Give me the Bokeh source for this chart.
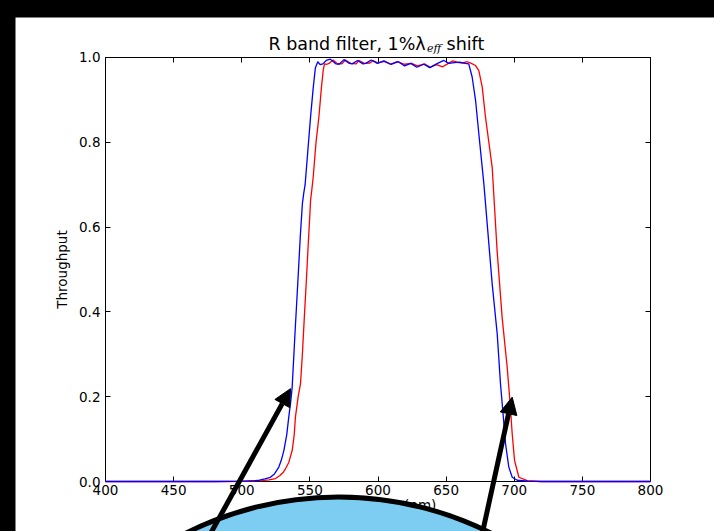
from bokeh.plotting import figure
from bokeh.models import Range1d, LinearAxis, FixedTicker, PrintfTickFormatter, Arrow, NormalHead
from bokeh.core.properties import value
from bokeh.embed import file_html
from bokeh.resources import INLINE

# ---------------- data ----------------
wl_blue = [400, 480, 500, 510, 513, 517, 521, 524, 527.2, 529, 530.9, 533, 534.5, 536, 537,
           539, 541.1, 543, 544.5, 545.5, 546.5, 548.5, 550.5, 552.5, 554, 555.8,
           557.5, 559.5, 562, 565, 569, 571.5, 575, 579, 581, 585, 589, 591, 595, 599.5,
           604.3, 609.5, 615, 619.5, 624, 628.5, 633.6, 638, 643, 648.3, 652, 656, 660,
           664, 666.6, 669.1, 671.6, 674, 677.7, 683.8, 687.5, 689.9, 691.6, 693.6, 696,
           698.5, 702.2, 710, 720, 800]
thr_blue = [0, 0, 0.001, 0.002, 0.003, 0.006, 0.010, 0.018, 0.034, 0.05, 0.073, 0.11, 0.152, 0.19, 0.222,
            0.345, 0.467, 0.58, 0.655, 0.68, 0.70, 0.78, 0.86, 0.93, 0.975, 0.99,
            0.983, 0.985, 0.993, 0.996, 0.985, 0.984, 0.995, 0.986, 0.985, 0.993, 0.985, 0.986, 0.994, 0.986,
            0.992, 0.984, 0.99, 0.98, 0.986, 0.977, 0.984, 0.976, 0.985, 0.993, 0.986, 0.988, 0.989,
            0.986, 0.985, 0.954, 0.899, 0.82, 0.702, 0.466, 0.348, 0.23, 0.167, 0.089, 0.034,
            0.01, 0.003, 0.001, 0, 0]

wl_red = [400, 490, 505, 515, 520, 524.8, 528, 530.5, 532.1, 534.5, 537, 538.5, 539.4, 541.4, 543.1,
          544.5, 545.8, 547.3, 548.8, 550, 550.5, 551.5, 552.5, 554.5, 556.6, 558.5, 559.8, 560.7,
          562.5, 564, 567, 570, 573.5, 576, 580, 584, 586, 590, 594, 596.5, 600, 604.5,
          609, 614, 619.5, 624.5, 629, 634, 638.5, 643, 647.5, 651, 655, 659, 662, 665.5,
          668.5, 671.6, 674, 676.5, 678.9, 683.8, 687.4, 691.1, 694.8, 696.8, 698.5, 700.2,
          703.4, 709.5, 720, 800]
thr_red = [0, 0, 0.001, 0.002, 0.004, 0.007, 0.014, 0.022, 0.03, 0.045, 0.073, 0.11, 0.152, 0.20, 0.23,
           0.30, 0.38, 0.467, 0.56, 0.63, 0.663, 0.69, 0.72, 0.80, 0.859, 0.93, 0.97, 0.985,
           0.984, 0.986, 0.994, 0.986, 0.985, 0.994, 0.986, 0.985, 0.993, 0.986, 0.987, 0.993, 0.987, 0.991,
           0.984, 0.99, 0.984, 0.986, 0.98, 0.985, 0.977, 0.983, 0.978, 0.985, 0.992, 0.988, 0.987, 0.99,
           0.986, 0.981, 0.969, 0.93, 0.859, 0.741, 0.545, 0.387, 0.27, 0.191, 0.112, 0.05,
           0.01, 0.002, 0, 0]

x_ticks = [400, 450, 500, 550, 600, 650, 700, 750, 800]
y_ticks = [0.0, 0.2, 0.4, 0.6, 0.8, 1.0]

title_main = "R band filter, 1%λ"
title_sub = "eff"
title_tail = "shift"
x_label = "Wavelength (nm)"
y_label = "Throughput"

# annotation overlay (magnifier circle and arrows), in data units
circle_x, circle_y = 571.0, -0.8385
circle_w, circle_h = 499.1, 1.604
arrow_tip_x = [535.8, 698.5]
arrow_tip_y = [0.219, 0.199]
arrow_tail_x = [449.9, 665.7]
arrow_tail_y = [-0.281, -0.281]

# ---------------- figure ----------------
FONT = "DejaVu Sans"
p = figure(width=699, height=514, output_backend="svg", toolbar_location=None, title=None,
           x_range=Range1d(333.94, 846.97), y_range=Range1d(-0.1179, 1.0943),
           x_axis_location=None, y_axis_location=None, min_border=0)
p.outline_line_color = None
p.background_fill_color = "white"
p.border_fill_color = "white"
for g in p.grid:
    g.visible = False


def style_axis(ax, show_labels):
    ax.axis_line_color = "black"
    ax.axis_line_width = 1
    ax.major_tick_in = 5
    ax.major_tick_out = 0
    ax.minor_tick_in = 0
    ax.minor_tick_out = 0
    ax.major_tick_line_color = "black"
    ax.major_label_text_font = FONT
    ax.major_label_text_font_size = "13.5px"
    ax.major_label_text_color = "black" if show_labels else None
    ax.axis_label_text_font = FONT
    ax.axis_label_text_font_size = "13.5px"
    ax.axis_label_text_font_style = "normal"
    ax.axis_label_text_color = "black"


xb = LinearAxis(fixed_location=0, bounds=(400, 800), ticker=FixedTicker(ticks=x_ticks))
style_axis(xb, True)
xb.major_label_standoff = 3
p.add_layout(xb, "below")

xt = LinearAxis(fixed_location=1, bounds=(400, 800), ticker=FixedTicker(ticks=x_ticks))
style_axis(xt, False)
p.add_layout(xt, "above")

yl = LinearAxis(fixed_location=400, bounds=(0, 1), ticker=FixedTicker(ticks=y_ticks),
                formatter=PrintfTickFormatter(format="%.1f"), axis_label=y_label)
style_axis(yl, True)
yl.major_label_standoff = 5
yl.axis_label_standoff = 6
p.add_layout(yl, "left")

yr = LinearAxis(fixed_location=800, bounds=(0, 1), ticker=FixedTicker(ticks=y_ticks))
style_axis(yr, False)
p.add_layout(yr, "right")

# x-axis label (mostly hidden under the overlay circle, as in the original)
p.text(x=[600], y=[-0.0372], text=[x_label], text_font=value(FONT), text_font_size="13.5px",
       text_align="center", text_baseline="top", text_color="black")

# curves (drawn above the axis lines, below the overlay circle)
p.line(wl_red, thr_red, line_color="#ff0000", line_width=1.3, level="overlay")
p.line(wl_blue, thr_blue, line_color="#0000ff", line_width=1.3, level="overlay")

# title
p.text(x=[635.0], y=[1.031], text=[title_main], text_font=value(FONT), text_font_size="17.5px",
       text_align="right", text_baseline="alphabetic", text_color="black")
p.text(x=[636.0], y=[1.0205], text=[title_sub], text_font=value("DejaVu Serif"), text_font_size="11px",
       text_font_style="italic", text_align="left", text_baseline="alphabetic", text_color="black")
p.text(x=[650.3], y=[1.031], text=[title_tail], text_font=value(FONT), text_font_size="17.5px",
       text_align="left", text_baseline="alphabetic", text_color="black")

# overlay: circle and arrows
p.ellipse(x=[circle_x], y=[circle_y], width=[circle_w], height=[circle_h],
          fill_color="#7dcdf3", line_color="black", line_width=5, level="overlay")
for xs, ys, xe, ye in zip(arrow_tail_x, arrow_tail_y, arrow_tip_x, arrow_tip_y):
    p.add_layout(Arrow(end=NormalHead(size=17, fill_color="black", line_color="black", line_width=1),
                       x_start=xs, y_start=ys, x_end=xe, y_end=ye,
                       line_color="black", line_width=5, level="overlay"))

html = file_html(p, INLINE)
html = html.replace("</head>",
                    "<style>html,body{margin:0;padding:0;background:#000;}"
                    "body{padding:17px 0 0 15px;}</style></head>", 1)
open("out.html", "w").write(html)
